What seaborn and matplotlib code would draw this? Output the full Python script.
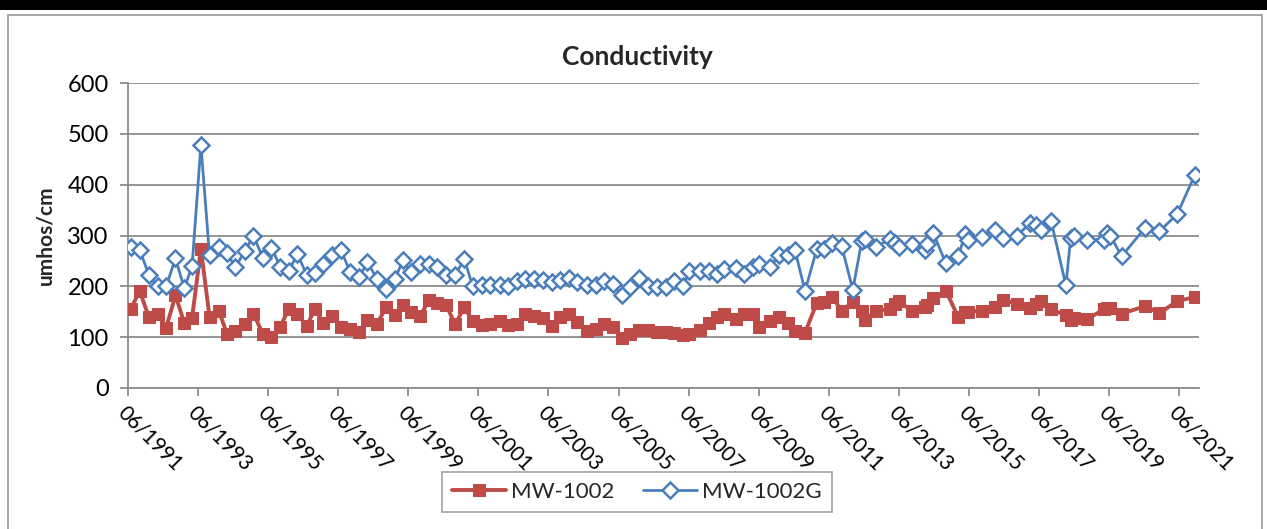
"""
Conductivity time series for MW-1002 / MW-1002G, Excel-style line chart.
"""

import numpy as np
import pandas as pd
import matplotlib
matplotlib.use("Agg")
import matplotlib.pyplot as plt
import matplotlib.dates as mdates
import matplotlib.patches as mpatches
import seaborn as sns

sns.set_theme(style="white")
plt.rcParams["font.family"] = ["Lato", "DejaVu Sans"]

RED = "#BE4B48"
BLUE = "#4A7EBB"
GRID = "#8C8C8C"

# ── Data ──────────────────────────────────────────────────────────────────────

sample_dates = [
    "1991-07-01", "1991-10-01", "1992-01-05", "1992-04-04", "1992-07-03", "1992-10-08",
    "1993-01-08", "1993-03-30", "1993-06-30", "1993-09-28", "1994-01-04", "1994-03-27",
    "1994-06-25", "1994-10-01", "1994-12-30", "1995-04-06", "1995-07-05", "1995-10-04",
    "1996-01-03", "1996-04-01", "1996-07-08", "1996-10-01", "1996-12-29", "1997-03-29",
    "1997-06-28", "1997-10-03", "1998-01-06", "1998-04-01", "1998-07-08", "1998-10-13",
    "1999-01-15", "1999-04-05", "1999-06-27", "1999-10-02", "2000-01-02", "2000-03-31",
    "2000-06-30", "2000-10-02", "2001-01-04", "2001-04-03", "2001-07-06", "2001-10-01",
    "2002-01-07", "2002-04-06", "2002-07-06", "2002-10-01", "2003-01-03", "2003-04-02",
    "2003-07-05", "2003-09-30", "2004-01-06", "2004-03-29", "2004-07-05", "2004-10-10",
    "2005-01-02", "2005-04-01", "2005-07-04", "2005-09-30", "2006-01-02", "2006-04-08",
    "2006-07-04", "2006-10-06", "2007-01-01", "2007-04-07", "2007-06-09", "2007-09-29",
    "2008-01-04", "2008-03-20", "2008-06-05", "2008-10-05", "2008-12-31", "2009-03-30",
    "2009-06-07", "2009-09-28", "2010-01-03", "2010-04-05", "2010-06-14", "2010-09-27",
    "2011-01-27", "2011-04-12", "2011-07-08", "2011-10-14", "2012-02-07", "2012-05-10",
    "2012-06-13", "2012-10-06", "2013-02-28", "2013-04-21", "2013-06-06", "2013-10-13",
    "2014-02-28", "2014-03-23", "2014-05-25", "2014-10-05", "2015-02-11", "2015-04-21",
    "2015-05-25", "2015-10-12", "2016-02-28", "2016-05-18", "2016-10-10", "2017-02-28",
    "2017-05-05", "2017-06-18", "2017-10-06", "2018-03-08", "2018-04-27", "2018-06-01",
    "2018-10-14", "2019-04-08", "2019-05-10", "2019-06-15", "2019-10-10", "2020-06-10",
    "2020-11-06", "2021-05-12", "2021-11-13",
]

mw1002 = [
    156, 191, 139, 146, 119, 182, 128, 138, 274, 139, 152, 107,
    112, 125, 146, 107, 101, 120, 156, 145, 122, 156, 127, 141,
    120, 117, 110, 133, 125, 159, 143, 163, 150, 141, 173, 167,
    163, 125, 159, 132, 124, 125, 132, 124, 125, 145, 141, 137,
    122, 140, 145, 130, 113, 117, 125, 120, 99, 106, 115, 115,
    110, 110, 108, 104, 107, 114, 127, 139, 146, 135, 145, 145,
    120, 132, 140, 127, 112, 109, 167, 169, 180, 151, 170, 152,
    133, 152, 155, 165, 171, 151, 160, 163, 177, 191, 139, 149,
    150, 152, 160, 173, 166, 158, 165, 172, 155, 143, 134, 137,
    135, 155, 157, 157, 146, 161, 147, 171, 179,
]

mw1002g = [
    277, 272, 222, 200, 200, 255, 196, 240, 478, 261, 278, 265,
    238, 269, 300, 256, 276, 239, 230, 264, 222, 226, 243, 261,
    272, 228, 218, 248, 215, 194, 215, 251, 228, 243, 243, 239,
    222, 222, 254, 200, 202, 202, 202, 200, 210, 215, 215, 212,
    208, 212, 217, 208, 202, 202, 210, 205, 182, 199, 217, 200,
    199, 199, 210, 200, 230, 230, 230, 224, 235, 237, 224, 239,
    243, 239, 261, 261, 271, 191, 273, 274, 285, 279, 193, 289,
    293, 278, 293, 285, 277, 283, 271, 284, 305, 245, 259, 302,
    292, 298, 311, 296, 299, 324, 321, 311, 328, 202, 295, 300,
    292, 292, 305, 300, 259, 315, 308, 342, 420,
]

y_ticks = [0, 100, 200, 300, 400, 500, 600]
tick_dates = pd.date_range("1991-06-01", "2021-06-01", freq="24MS")

df = pd.DataFrame({
    "date": pd.to_datetime(sample_dates),
    "MW-1002": mw1002,
    "MW-1002G": mw1002g,
})

# ── Figure ────────────────────────────────────────────────────────────────────

W, H = 1267, 529
fig = plt.figure(figsize=(W / 100, H / 100), dpi=100)
fig.patch.set_facecolor("white")

# black strip on top and the chart-area border
fig.patches.append(mpatches.Rectangle((0, 1 - 10 / H), 1, 10 / H, transform=fig.transFigure,
                                      facecolor="black", edgecolor="none", zorder=0))
fig.patches.append(mpatches.Rectangle((8 / W, -0.05), (1262 - 8) / W, 1.05 - 15 / H,
                                      transform=fig.transFigure, facecolor="none",
                                      edgecolor="#A0A0A0", linewidth=1.3, zorder=0))

ax = fig.add_axes([128 / W, 1 - 388 / H, (1199.3 - 128) / W, (388 - 83) / H])
ax.set_facecolor("white")

sns.lineplot(data=df, x="date", y="MW-1002", ax=ax, color=RED, linewidth=2.8,
             marker="s", markersize=8, markerfacecolor=RED, markeredgecolor=RED,
             label="MW-1002", zorder=3)
sns.lineplot(data=df, x="date", y="MW-1002G", ax=ax, color=BLUE, linewidth=2.0,
             marker="D", markersize=8.5, markerfacecolor="white", markeredgecolor=BLUE,
             markeredgewidth=1.8, label="MW-1002G", zorder=4)

ax.set_ylim(0, 600)
ax.set_yticks(y_ticks)
ax.set_xlim(pd.Timestamp("1991-06-01"), pd.Timestamp("2021-12-28"))
ax.set_xticks(tick_dates)
ax.xaxis.set_major_formatter(mdates.DateFormatter("%m/%Y"))

ax.grid(axis="y", color=GRID, linewidth=1.3)
ax.grid(axis="x", visible=False)
for side in ["top", "right"]:
    ax.spines[side].set_visible(False)
for side in ["left", "bottom"]:
    ax.spines[side].set_color(GRID)
    ax.spines[side].set_linewidth(1.3)

ax.tick_params(axis="y", direction="out", length=6, width=1.3, color=GRID,
               labelsize=17, labelcolor="black", left=True, pad=8)
ax.tick_params(axis="x", direction="out", length=6, width=1.3, color=GRID,
               labelsize=15, labelcolor="black", bottom=True, pad=4)
for lbl in ax.get_xticklabels():
    lbl.set_rotation(-45)
    lbl.set_ha("left")
    lbl.set_va("top")
    lbl.set_rotation_mode("anchor")

ax.set_xlabel("")
ax.set_ylabel("")

fig.text(637 / W, 1 - 57 / H, "Conductivity", ha="center", va="center",
         fontsize=19, fontweight="bold")
fig.text(45 / W, 1 - 235 / H, "umhos/cm", ha="center", va="center",
         rotation=90, fontsize=15, fontweight="bold")

leg = ax.legend(loc="center", bbox_to_anchor=(637 / W, 1 - 492 / H),
                bbox_transform=fig.transFigure, ncol=2, fontsize=16,
                frameon=True, fancybox=False, edgecolor="#8C8C8C",
                handlelength=2.4, columnspacing=1.3, handletextpad=0.25,
                borderpad=0.45, borderaxespad=0)
leg.get_frame().set_linewidth(1.2)

fig.savefig("out.png", dpi=100)
